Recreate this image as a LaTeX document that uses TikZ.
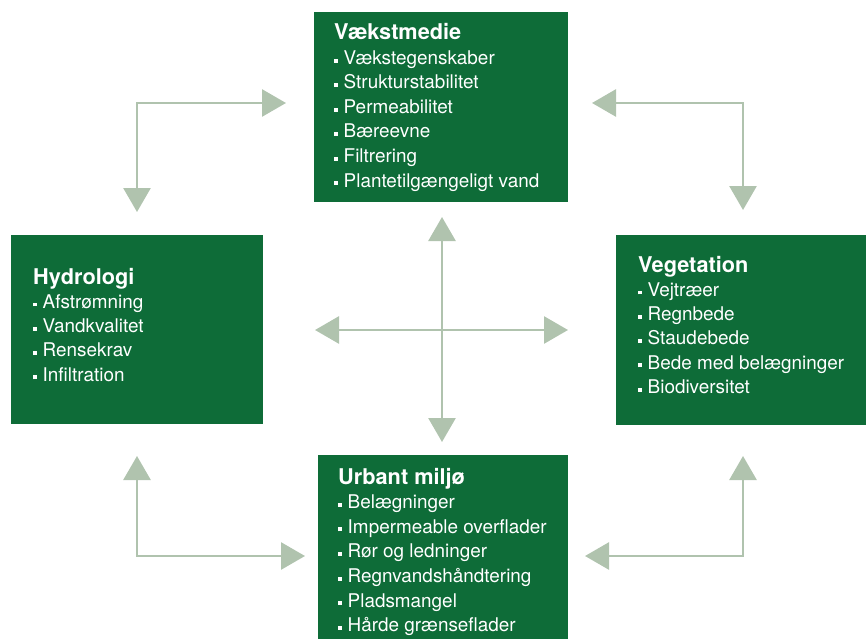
\documentclass[tikz,border=0pt]{standalone}
\usepackage{fontspec}
\setmainfont{TeX Gyre Heros}
\usetikzlibrary{arrows.meta}
\definecolor{boxgreen}{RGB}{14,108,56}
\definecolor{arrowgreen}{RGB}{176,195,174}
\tikzset{
  box/.style={fill=boxgreen, draw=none, anchor=north west, inner sep=0pt},
  ttl/.style={anchor=base west, inner sep=0pt, text=white, font=\fontsize{21.7}{24}\selectfont\bfseries},
  itm/.style={anchor=base west, inner sep=0pt, text=white, font=\fontsize{18.9}{22}\selectfont},
  conn/.style={draw=arrowgreen, line width=2.7pt,
    {Triangle[length=24pt,width=27pt]}-{Triangle[length=24pt,width=27pt]}}
}
\newcommand{\blt}{\rule[1.9pt]{3.9pt}{3.9pt}\hspace{5.6pt}}
\begin{document}
\begin{tikzpicture}[x=1pt,y=-1pt]
\useasboundingbox (0,0) rectangle (866,639);
% boxes
\node[box, minimum width=254pt, minimum height=190pt] (vm) at (314,12) {};
\node[box, minimum width=252pt, minimum height=189pt] (hy) at (11,235) {};
\node[box, minimum width=250pt, minimum height=190pt] (ve) at (616,235) {};
\node[box, minimum width=250pt, minimum height=184pt] (um) at (318,455) {};
% Vækstmedie
\node[ttl] (vmt) at (334,40) {Vækstmedie};
\foreach \t [count=\i] in {Vækstegenskaber,Strukturstabilitet,Permeabilitet,Bæreevne,Filtrering,Plantetilgængeligt vand}
  \node[itm] (vm\i) at ({334},{40+24.5*\i}) {\blt\t};
% Hydrologi
\node[ttl] (hyt) at (33,284) {Hydrologi};
\foreach \t [count=\i] in {Afstrømning,Vandkvalitet,Rensekrav,Infiltration}
  \node[itm] (hy\i) at ({33},{284+24.3*\i}) {\blt\t};
% Vegetation
\node[ttl] (vet) at (638,272) {Vegetation};
\foreach \t [count=\i] in {Vejtræer,Regnbede,Staudebede,Bede med belægninger,Biodiversitet}
  \node[itm] (ve\i) at ({638},{272+24.3*\i}) {\blt\t};
% Urbant miljø
\node[ttl] (umt) at (338,484) {Urbant miljø};
\foreach \t [count=\i] in {Belægninger,Impermeable overflader,Rør og ledninger,Regnvandshåndtering,Pladsmangel,Hårde grænseflader}
  \node[itm] (um\i) at ({338},{484+24.6*\i}) {\blt\t};
% connector end points
\coordinate (cu) at (442,217);
\coordinate (cd) at (442,442);
\coordinate (cl) at (315,330);
\coordinate (cr) at (568,330);
\coordinate (tl1) at (286,103);
\coordinate (tl2) at (137,212);
\coordinate (tr1) at (592,103);
\coordinate (tr2) at (743,210);
\coordinate (bl1) at (137,456);
\coordinate (bl2) at (305,556);
\coordinate (br1) at (743,456);
\coordinate (br2) at (585,556);
% connectors
\draw[conn] (cu) -- (cd);
\draw[conn] (cl) -- (cr);
\draw[conn] (tl1) -| (tl2);
\draw[conn] (tr1) -| (tr2);
\draw[conn] (bl1) |- (bl2);
\draw[conn] (br1) |- (br2);
\end{tikzpicture}
\end{document}
